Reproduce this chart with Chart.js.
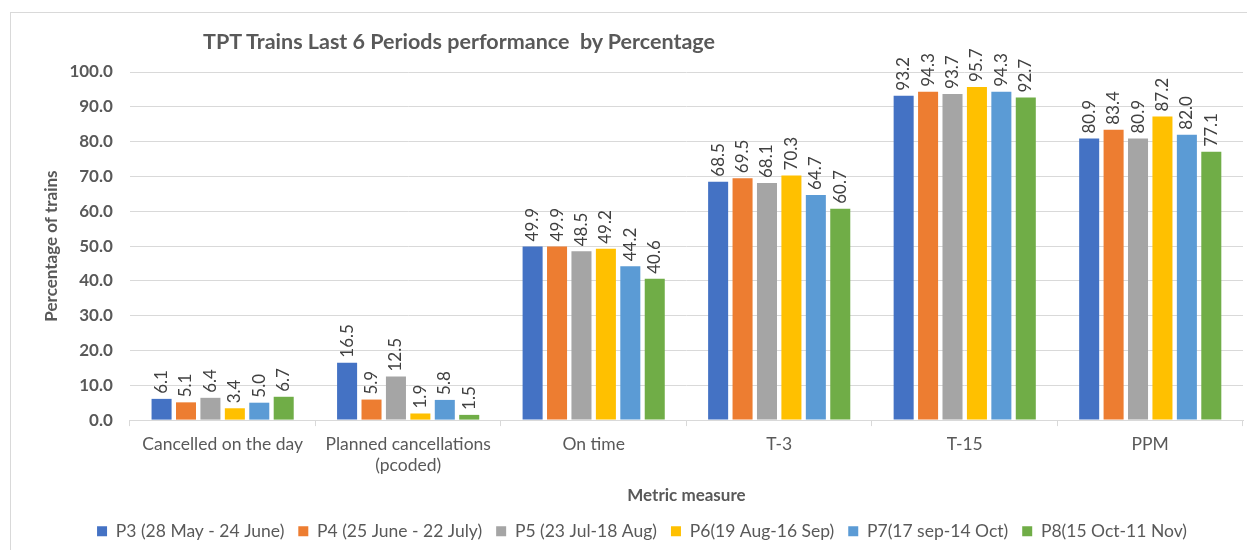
<!DOCTYPE html>
<html>
<head>
<meta charset="utf-8">
<script src="https://cdn.jsdelivr.net/npm/chart.js@4.4.1/dist/chart.umd.min.js"></script>
<style>
  html, body { margin: 0; padding: 0; background: #fff; }
  #wrap { position: relative; width: 1247px; height: 550px; }
  #frame { position: absolute; left: 10px; top: 12px; width: 1245px; height: 560px; border: 1px solid #d9d9d9; box-sizing: border-box; }
  #title { position: absolute; left: 203px; top: 28px; font: bold 21.5px Lato, sans-serif; color: #595959; white-space: pre; }
  canvas { position: absolute; left: 0; top: 0; }
</style>
</head>
<body>
<div id="wrap">
  <div id="frame"></div>
  <canvas id="chart" width="1247" height="550"></canvas>
  <div id="title">TPT Trains Last 6 Periods performance  by Percentage</div>
</div>
<script>
const categories = ['Cancelled on the day', ['Planned cancellations', '(pcoded)'], 'On time', 'T-3', 'T-15', 'PPM'];
const periods = ['P3 (28 May - 24 June)', 'P4 (25 June - 22 July)', 'P5 (23 Jul-18 Aug)', 'P6(19 Aug-16 Sep)', 'P7(17 sep-14 Oct)', 'P8(15 Oct-11 Nov)'];
const p3 = [6.1, 16.5, 49.9, 68.5, 93.2, 80.9];
const p4 = [5.1, 5.9, 49.9, 69.5, 94.3, 83.4];
const p5 = [6.4, 12.5, 48.5, 68.1, 93.7, 80.9];
const p6 = [3.4, 1.9, 49.2, 70.3, 95.7, 87.2];
const p7 = [5.0, 5.8, 44.2, 64.7, 94.3, 82.0];
const p8 = [6.7, 1.5, 40.6, 60.7, 92.7, 77.1];
const colors = ['#4472C4', '#ED7D31', '#A5A5A5', '#FFC000', '#5B9BD5', '#70AD47'];

const seriesValues = [p3, p4, p5, p6, p7, p8];

// rotated value labels above each bar
const barLabels = {
  id: 'barLabels',
  afterDatasetsDraw(chart) {
    const ctx = chart.ctx;
    ctx.save();
    ctx.font = '17px Lato, sans-serif';
    ctx.fillStyle = '#404040';
    ctx.textAlign = 'left';
    ctx.textBaseline = 'middle';
    chart.data.datasets.forEach((ds, i) => {
      chart.getDatasetMeta(i).data.forEach((bar, j) => {
        ctx.save();
        ctx.translate(bar.x, bar.y - 5);
        ctx.rotate(-Math.PI / 2);
        ctx.fillText(ds.data[j].toFixed(1), 0, 0);
        ctx.restore();
      });
    });
    ctx.restore();
  }
};

const ctx = document.getElementById('chart').getContext('2d');
new Chart(ctx, {
  type: 'bar',
  data: {
    labels: categories,
    datasets: seriesValues.map((vals, i) => ({
      label: periods[i],
      data: vals,
      backgroundColor: colors[i],
      categoryPercentage: 0.79,
      barPercentage: 0.82
    }))
  },
  options: {
    responsive: false,
    animation: false,
    layout: { padding: { top: 72, right: 4, left: 41, bottom: 0 } },
    plugins: {
      legend: {
        position: 'bottom',
        labels: {
          boxWidth: 10,
          boxHeight: 10,
          padding: 14,
          color: '#595959',
          font: { family: 'Lato, sans-serif', size: 17.5 }
        }
      },
      tooltip: { enabled: false }
    },
    scales: {
      x: {
        grid: { display: true, drawOnChartArea: false, offset: true, tickLength: 6, color: '#d9d9d9' },
        border: { color: '#d9d9d9' },
        ticks: { color: '#595959', font: { family: 'Lato, sans-serif', size: 17.5 }, maxRotation: 0, padding: 8 },
        title: { display: true, text: 'Metric measure', color: '#595959', font: { family: 'Lato, sans-serif', size: 17, weight: 'bold' }, padding: { top: 1, bottom: 3 } }
      },
      y: {
        min: 0,
        max: 100,
        ticks: {
          stepSize: 10,
          color: '#595959',
          font: { family: 'Lato, sans-serif', size: 17, weight: 'bold' },
          padding: 17,
          callback: v => v.toFixed(1)
        },
        grid: { color: '#d9d9d9', drawTicks: false },
        border: { display: false },
        title: { display: true, text: 'Percentage of trains', color: '#595959', font: { family: 'Lato, sans-serif', size: 17, weight: 'bold' }, padding: { top: 0, bottom: -9 } }
      }
    }
  },
  plugins: [barLabels]
});
</script>
</body>
</html>
